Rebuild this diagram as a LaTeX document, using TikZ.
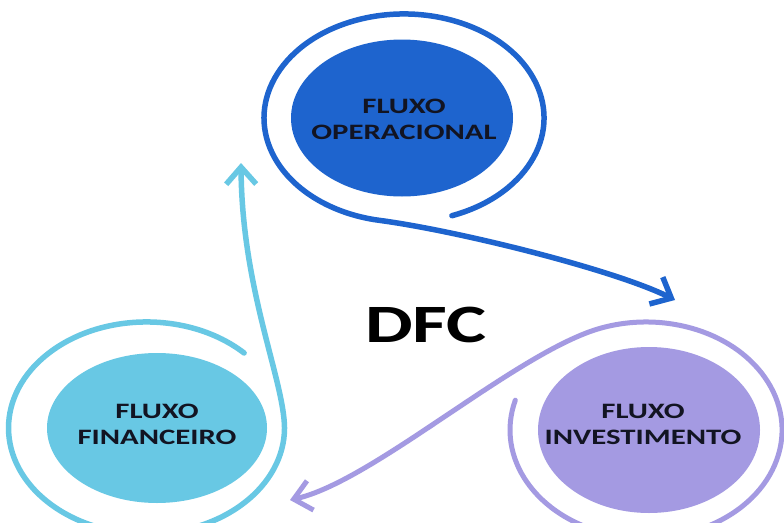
\documentclass[tikz,border=0pt]{standalone}
\usepackage{fontspec}
\setmainfont{Carlito}
\usepackage{graphicx}
\usetikzlibrary{shapes.geometric,arrows.meta}
\definecolor{opblue}{RGB}{30,100,206}
\definecolor{invlav}{RGB}{164,154,226}
\definecolor{fincyan}{RGB}{104,200,228}
\definecolor{txtdark}{RGB}{18,20,34}
\newcommand{\wtxt}[1]{\scalebox{1.4}[1]{#1}}
\begin{document}
\begin{tikzpicture}[x=1pt,y=-1pt,
  blob/.style={ellipse, inner sep=0pt, draw=none},
  lbl/.style={font=\fontsize{22}{26}\selectfont\bfseries, text=txtdark, align=center},
  flow/.style={line width=5.5pt, line cap=round, line join=round,
    -{Straight Barb[length=17pt,width=30pt]}}
]
\useasboundingbox (0,0) rectangle (784,522);
\clip (0,0) rectangle (784,522);
\fill[white] (0,0) rectangle (784,522);

% filled discs
\node[blob, fill=opblue, minimum width=222pt, minimum height=157pt] (op) at (402,118) {};
\node[blob, fill=invlav, minimum width=222pt, minimum height=166pt] (inv) at (649,430) {};
\node[blob, fill=fincyan, minimum width=220pt, minimum height=150pt] (fin) at (157,428) {};

% ring start points and arrow tips
\coordinate (opstart) at (451.9,215.7);
\coordinate (optip) at (675,300);
\coordinate (invstart) at (515.3,400.2);
\coordinate (invtip) at (290,500);
\coordinate (finstart) at (244.1,353);
\coordinate (fintip) at (241,163);

% rings continuing into arrows
\draw[flow, opblue] (opstart) arc[start angle=70, end angle=-260, x radius=140, y radius=104]
  .. controls (459,231) and (615,270) .. (optip);
\draw[flow, invlav, line width=5pt] (invstart) arc[start angle=196, end angle=-115, x radius=136, y radius=108]
  .. controls (503,364) and (370,482) .. (invtip);
\draw[flow, fincyan] (finstart) arc[start angle=-45, end angle=-360, x radius=138, y radius=106]
  .. controls (284,380) and (242,290) .. (fintip);

% labels
\node[lbl] (optxt) at (404,119) {\wtxt{FLUXO}\\\wtxt{OPERACIONAL}};
\node[lbl] (invtxt) at (643,424) {\wtxt{FLUXO}\\\wtxt{INVESTIMENTO}};
\node[lbl] (fintxt) at (157,424) {\wtxt{FLUXO}\\\wtxt{FINANCEIRO}};
\node[font=\fontsize{54}{60}\selectfont\bfseries, text=black] (dfc) at (426,325) {\wtxt{DFC}};
\end{tikzpicture}
\end{document}
